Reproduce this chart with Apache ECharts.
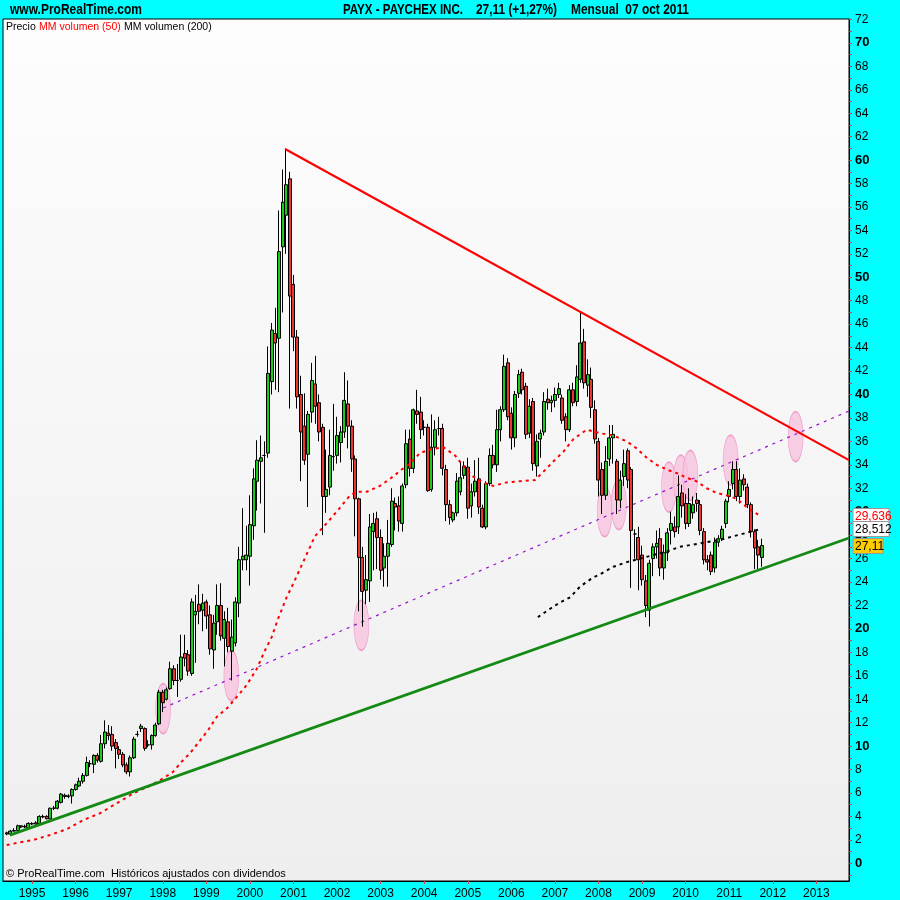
<!DOCTYPE html>
<html><head><meta charset="utf-8">
<script src="https://cdn.jsdelivr.net/npm/echarts@6/dist/echarts.min.js"></script>
<style>html,body{margin:0;padding:0;background:#00ffff}#c{width:900px;height:900px}</style>
</head><body><div id="c"></div>
<script>
// ---------- DATA ----------
// monthly categories from May 1994 to Oct 2013 (index 0 = 1994-05)
const firstYear = 1994, firstMonth = 5, monthCount = 234;
const months = [];
for (let i = 0; i < monthCount; i++) {
  const t = firstMonth - 1 + i;
  const y = firstYear + Math.floor(t / 12), m = (t % 12) + 1;
  months.push(y + '-' + (m < 10 ? '0' + m : m));
}
// candles start at index 1 (Jun 1994) and end at index 209 (Oct 2011)
const candleStart = 1;
const opens = [2.6,2.5,2.75,2.8,3.2,3.1,3.05,3.4,3.45,3.4,3.95,4.0,3.8,4.7,4.7,5.2,5.8,5.7,5.75,6.3,6.6,7.0,7.5,8.5,8.45,9.2,8.7,10.2,11.1,11.0,10.3,9.7,9.3,8.4,7.8,9.0,11.0,11.5,11.5,10.1,10.1,10.9,11.9,14.6,14.0,14.9,16.6,15.6,15.7,17.9,17.8,16.2,21.2,22.1,21.6,22.3,21.2,18.2,20.6,22.0,19.2,20.6,18.1,18.8,22.2,25.9,25.9,26.2,28.8,32.6,34.3,34.8,35.0,41.1,45.2,44.8,52.6,55.3,58.4,49.4,44.9,40.0,37.3,34.9,38.5,40.9,39.3,37.2,31.3,32.1,34.7,34.8,35.9,36.8,39.2,37.3,34.5,31.1,26.1,23.3,24.1,28.3,29.4,27.8,25.2,26.2,27.2,30.7,30.5,29.0,32.3,36.2,33.7,38.6,38.5,37.2,37.2,31.9,35.5,37.1,37.1,33.6,30.6,29.3,29.9,31.7,33.1,33.8,30.5,31.7,32.8,30.3,28.7,32.4,34.8,34.0,37.0,38.7,42.7,38.4,36.3,40.1,41.9,40.7,36.7,39.4,33.9,36.2,36.8,39.6,39.3,39.5,40.0,39.7,38.1,37.0,40.4,39.4,41.3,44.5,40.8,41.3,38.7,36.0,33.6,31.4,34.5,36.3,34.3,31.0,33.0,35.2,33.6,28.1,27.8,26.3,24.1,21.6,26.0,27.0,27.7,25.2,26.5,28.4,28.7,28.7,31.6,30.7,29.0,29.9,31.0,30.6,28.3,25.9,26.3,25.2,27.4,27.7,29.0,31.3,32.4,33.6,31.3,32.8,32.1,30.6,28.3,27.0,26.1];
const closes = [2.5,2.75,2.8,3.2,3.1,3.15,3.4,3.35,3.35,4.0,4.0,3.8,4.7,4.7,5.3,5.9,5.7,5.75,6.3,6.7,7.0,7.5,8.6,8.5,9.2,8.8,10.2,11.2,10.9,10.0,9.8,9.3,8.4,7.8,9.0,10.6,11.0,11.7,9.8,10.1,10.9,11.8,14.6,13.7,14.8,16.6,15.6,15.6,17.6,17.5,16.4,22.3,21.5,21.5,22.2,21.1,18.3,20.5,22.0,19.4,20.8,18.5,19.3,22.3,25.9,26.2,26.3,28.9,32.8,34.4,34.6,34.8,41.8,45.5,44.4,52.2,56.4,57.9,48.4,44.9,39.8,36.8,34.4,38.3,41.2,39.0,36.8,31.3,31.9,34.8,34.7,36.5,36.8,39.5,37.3,34.5,31.1,26.1,23.2,24.2,28.7,29.0,27.8,25.0,26.2,27.3,30.9,30.4,29.2,32.2,35.8,33.7,38.7,38.3,37.0,37.2,31.8,35.5,37.0,37.1,33.7,30.6,29.5,29.9,32.6,32.9,33.9,30.3,31.7,32.6,30.4,28.7,32.4,34.8,34.0,37.0,38.7,42.4,38.1,36.3,40.0,41.7,40.4,36.6,39.0,34.1,36.0,36.7,39.4,39.3,39.5,40.0,40.5,37.8,37.0,40.4,39.3,41.5,44.4,41.0,41.7,38.9,36.2,32.7,31.4,34.3,36.3,36.6,31.0,32.7,34.1,32.7,28.4,28.1,25.9,24.2,22.0,25.6,27.0,27.3,25.2,26.5,28.2,29.0,28.3,31.3,30.5,29.0,30.7,30.6,30.7,28.4,25.9,25.7,24.9,27.4,27.7,28.5,30.9,31.9,33.6,31.3,32.7,32.3,30.6,28.3,26.9,26.3,27.11];
const lows = [2.4,2.45,2.7,2.75,3.0,3.0,3.0,3.25,3.3,3.35,3.85,3.75,3.75,4.55,4.6,5.1,5.5,5.55,5.1,6.2,6.5,6.8,7.4,8.2,7.7,8.6,8.6,9.8,10.5,9.6,8.1,8.9,8.2,7.6,7.4,8.9,10.8,11.2,9.6,9.9,9.7,10.8,11.8,12.9,13.9,14.8,15.2,14.2,15.5,16.8,16.0,16.0,17.1,20.4,19.8,20.0,17.8,16.6,19.5,19.0,16.8,18.0,15.6,18.5,21.0,25.0,25.0,23.7,27.6,30.1,30.7,28.2,34.6,40.0,40.4,40.2,47.0,52.0,38.8,43.7,38.8,32.6,34.0,30.4,37.6,37.5,36.0,28.0,29.9,31.4,33.5,34.1,34.2,36.3,35.4,33.4,27.9,21.5,20.2,22.1,22.3,25.0,25.1,24.2,23.6,23.6,27.0,28.4,28.3,28.3,32.0,33.0,33.3,37.5,36.2,36.5,31.7,31.7,34.8,36.5,33.1,29.2,28.9,29.1,29.6,31.4,32.8,29.4,29.5,31.3,29.8,28.6,28.5,32.2,33.7,33.4,36.0,38.5,37.8,35.3,35.5,39.7,40.0,36.2,36.3,33.5,33.0,34.6,36.5,38.7,38.5,38.9,39.7,37.5,36.0,36.8,39.0,39.0,41.0,40.5,39.8,38.0,35.8,31.3,29.8,31.0,33.9,34.1,29.8,30.3,32.2,32.0,23.5,26.0,23.3,23.7,21.0,20.2,24.5,26.0,24.5,24.2,25.8,27.2,27.8,28.1,29.5,28.5,28.7,29.4,30.0,28.0,25.5,25.0,24.6,24.8,27.0,27.5,28.6,30.8,31.9,30.9,30.7,31.8,30.3,27.8,25.1,25.1,25.3];
const highs = [2.7,2.85,3.0,3.3,3.25,3.3,3.5,3.5,3.6,4.1,4.15,4.1,4.75,4.9,5.4,6.0,5.95,5.9,6.4,6.8,7.3,7.7,9.1,8.8,9.3,9.4,10.95,12.2,11.8,11.7,10.6,10.0,9.5,8.6,9.2,10.8,11.3,11.9,11.6,10.5,11.0,12.0,14.8,14.8,15.0,17.2,16.9,17.0,19.5,19.5,18.2,22.6,22.9,23.8,23.0,22.5,22.0,21.2,23.8,23.9,21.5,21.8,20.8,22.7,27.0,30.3,28.8,31.4,33.7,36.1,36.5,36.0,44.1,46.1,47.4,55.7,59.2,61.0,59.0,50.2,45.5,41.6,40.1,38.6,42.7,43.3,40.0,37.5,35.3,37.0,39.2,38.1,37.3,41.9,41.2,37.8,34.8,31.2,27.0,26.3,29.8,29.9,30.0,28.5,27.3,29.3,32.0,31.2,31.3,32.4,37.0,37.0,38.8,40.4,39.8,37.8,37.5,38.3,37.8,38.1,37.5,34.0,31.0,30.0,33.3,34.3,34.3,34.6,32.4,34.4,34.6,30.6,32.6,35.4,35.7,38.7,39.0,43.4,43.1,38.9,40.3,42.1,42.2,41.0,39.6,39.7,36.6,37.0,40.2,40.5,39.9,40.6,41.0,40.0,38.4,40.8,41.0,42.5,47.1,45.6,43.0,42.3,39.5,36.3,34.2,35.6,37.4,37.4,34.5,33.5,35.3,35.4,33.8,28.5,28.7,27.1,24.6,25.9,27.3,28.4,28.6,27.2,28.6,30.0,29.6,33.1,32.3,31.5,32.0,31.3,31.6,31.0,28.6,26.3,26.6,27.8,28.0,28.8,31.1,32.6,34.3,34.3,33.7,33.2,32.4,30.8,28.5,27.6,27.7];
// moving averages: [month index, value]
const ma50 = [[1.0,1.56],[4.7,1.79],[8.3,1.99],[12.9,2.41],[17.5,2.9],[22.1,3.69],[26.7,4.27],[31.3,5.12],[35.9,5.97],[40.5,6.62],[44.1,7.25],[46.9,7.82],[49.2,8.67],[51.5,9.39],[53.8,10.29],[56.5,11.37],[58.9,12.51],[61.6,13.2],[64.4,14.2],[67.1,15.2],[69.9,16.6],[72.2,18.2],[74.0,19.3],[75.8,20.9],[78.1,22.7],[80.0,23.9],[85.9,27.9],[89.1,29.0],[91.9,30.0],[95.6,31.4],[97.4,31.7],[100.2,31.7],[103.8,32.2],[106.6,32.8],[109.8,33.6],[112.1,34.1],[114.8,35.0],[117.6,35.3],[121.3,35.5],[124.5,34.8],[126.8,33.9],[129.5,33.0],[132.3,32.5],[135.0,32.2],[138.7,32.5],[142.4,32.6],[146.5,32.7],[148.8,33.4],[151.6,34.3],[154.3,35.1],[157.1,36.2],[160.8,37.0],[164.4,36.7],[168.1,36.5],[171.8,36.0],[174.5,35.4],[177.3,34.6],[180.0,34.0],[182.8,33.6],[185.5,33.3],[188.3,32.9],[191.0,32.6],[193.8,32.0],[196.6,31.6],[199.3,31.4],[202.1,31.1],[204.8,30.4],[208.5,29.636]];
const ma200 = [[147.3,21.0],[150.6,21.7],[153.4,22.25],[156.2,22.7],[158.9,23.6],[162.6,24.4],[164.4,24.65],[168.1,25.3],[171.8,25.7],[175.4,26.0],[179.1,26.3],[182.8,26.6],[186.4,27.0],[190.1,27.2],[193.8,27.4],[197.5,27.6],[201.1,27.9],[204.8,28.2],[208.5,28.512]];
// hand-drawn trend lines: [month index, value]
const resistance = [[77.7,60.95],[233,34.4]];
const support = [[1.9,2.4],[233,27.76]];
const channel = [[44.1,13.25],[233,38.59]];
// pink ellipse markers: [month index, value]
const ellipses = [[44.1,13.2],[62.9,16.0],[98.7,20.3],[165.7,30.0],[169.6,30.6],[183.4,32.1],[186.7,32.7],[189.3,33.1],[200.4,34.4],[218.3,36.4]];
// last values shown on the price scale
const lastMa50 = 29.636, lastMa200 = 28.512, lastClose = 27.11;
const yTickMin = -1, yTickMax = 72;

// ---------- CHART ----------
const candles = opens.map((o, i) => [i + candleStart, o, closes[i], lows[i], highs[i]]);
const isJan = (idx, val) => typeof val === 'string' ? val.slice(5) === '01' : months[idx].slice(5) === '01';
const chart = echarts.init(document.getElementById('c'), null, {renderer: 'canvas'});
const sans = "'Liberation Sans',Arial,sans-serif";
const ellipsePath = 'path://M10,0 A10,10 0 1 1 10,20 A10,10 0 1 1 10,0 Z';

chart.setOption({
  backgroundColor: '#00ffff',
  animation: false,
  grid: [
    {left: 3, right: 51, top: 19, bottom: 19, show: true, borderColor: '#000', borderWidth: 1,
     backgroundColor: {type: 'linear', x: 0, y: 0, x2: 0, y2: 1, colorStops: [{offset: 0, color: '#fdfdfd'}, {offset: 1, color: '#eeeeee'}]}},
    {left: 3, right: 51, top: 19.46, bottom: 24.98, show: false}
  ],
  xAxis: [
    {type: 'category', gridIndex: 0, data: months, boundaryGap: false, position: 'bottom',
     axisLine: {onZero: false, lineStyle: {color: '#000', width: 1}},
     axisTick: {interval: isJan, length: 3, lineStyle: {color: '#d04040'}},
     axisLabel: {interval: isJan, formatter: v => v.slice(0, 4), color: '#000', fontSize: 12, fontFamily: sans, margin: 7},
     splitLine: {show: false}},
    {type: 'value', gridIndex: 0, min: 0, max: monthCount - 1, show: false},
    {type: 'value', gridIndex: 1, min: 0, max: 1, show: false}
  ],
  yAxis: [
    {type: 'value', gridIndex: 0, min: -1.51, max: 72.04, position: 'right',
     axisLine: {show: true, onZero: false, lineStyle: {color: '#000', width: 1}},
     axisTick: {show: false}, axisLabel: {show: false}, splitLine: {show: false}},
    {type: 'value', gridIndex: 1, min: yTickMin, max: yTickMax, interval: 1, position: 'right',
     axisLine: {show: false, onZero: false},
     axisTick: {show: true, length: 3, lineStyle: {color: '#d04040'}},
     axisLabel: {margin: 6, color: '#000', fontFamily: sans,
       formatter: v => (v % 2 !== 0 || v < 0) ? '' : (v % 10 === 0 ? '{b|' + v + '}' : '{n|' + v + '}'),
       rich: {b: {fontWeight: 'bold', fontSize: 13, fontFamily: sans, color: '#000'}, n: {fontSize: 12, fontFamily: sans, color: '#000'}}},
     splitLine: {show: false}}
  ],
  series: [
    {type: 'scatter', xAxisIndex: 1, yAxisIndex: 0, data: ellipses, symbol: ellipsePath, symbolSize: [15, 50],
     itemStyle: {color: '#f7c3de', borderColor: '#ef8cc4', borderWidth: 1}, z: 1, silent: true},
    {type: 'candlestick', xAxisIndex: 0, yAxisIndex: 0, data: candles, encode: {x: 0, y: [1, 2, 3, 4]},
     barWidth: 3.5,
     itemStyle: {color: '#19cc19', color0: '#ee3333', borderColor: '#000', borderColor0: '#000', borderWidth: 1}, z: 3},
    {type: 'line', xAxisIndex: 1, yAxisIndex: 0, data: channel, symbol: 'none',
     lineStyle: {color: '#9a10d0', width: 1.2, type: [3, 5]}, z: 2},
    {type: 'line', xAxisIndex: 1, yAxisIndex: 0, data: ma50, symbol: 'none',
     lineStyle: {color: '#ff0000', width: 2, type: [3, 4]}, z: 4},
    {type: 'line', xAxisIndex: 1, yAxisIndex: 0, data: ma200, symbol: 'none',
     lineStyle: {color: '#000', width: 2, type: [3, 4]}, z: 4},
    {type: 'line', xAxisIndex: 1, yAxisIndex: 0, data: resistance, symbol: 'none',
     lineStyle: {color: '#ff0000', width: 2.2}, z: 5},
    {type: 'line', xAxisIndex: 1, yAxisIndex: 0, data: support, symbol: 'none',
     lineStyle: {color: '#138a13', width: 2.8}, z: 5}
  ]
});

// squeeze bold text horizontally to the narrow face of the original
const mctx = document.createElement('canvas').getContext('2d');
function narrowText(text, left, width) {
  const font = 'bold 14px ' + sans;
  mctx.font = font;
  const sx = width / mctx.measureText(text).width;
  return {type: 'text', x: left, y: 3, scaleX: sx, z: 100, style: {text: text, fill: '#000', font: font}};
}
function tag(value, color, bg, w) {
  const y = chart.convertToPixel({yAxisIndex: 0}, value);
  return {type: 'group', x: 853, y: Math.round(y) - 7.5, z: 100, children: [
    {type: 'rect', z: 100, shape: {x: 0, y: 0, width: w, height: 15}, style: {fill: bg, stroke: '#999', lineWidth: 1}},
    {type: 'text', z: 101, x: 2, y: 2, style: {text: String(value).replace('.', ','), fill: color, font: '12px ' + sans}}
  ]};
}

chart.setOption({
  graphic: [
    narrowText('www.ProRealTime.com', 10, 132),
    narrowText('PAYX - PAYCHEX INC.', 343, 120),
    narrowText('27,11 (+1,27%)', 476, 81),
    narrowText('Mensual  07 oct 2011', 571, 118),
    {type: 'text', x: 6, y: 21, z: 100, style: {text: '{a|Precio} {r|MM volumen (50)} {a|MM volumen (200)}',
      rich: {a: {fill: '#000', font: '10.5px ' + sans}, r: {fill: '#ff0000', font: '10.5px ' + sans}}}},
    {type: 'text', x: 6, y: 868, z: 100, style: {text: '© ProRealTime.com  Históricos ajustados con dividendos', fill: '#000', font: '11px ' + sans}},
    tag(lastMa50, '#ff0000', '#ffffff', 36),
    tag(lastMa200, '#000000', '#ffffff', 36),
    tag(lastClose, '#000000', '#ffcc00', 30)
  ]
});
</script>
</body></html>
